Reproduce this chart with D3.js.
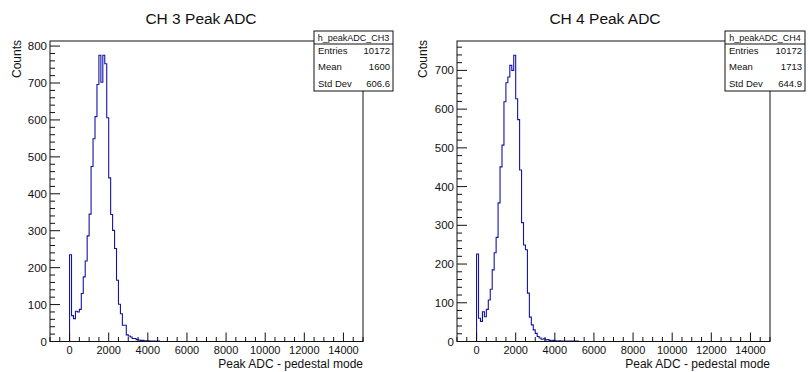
<!DOCTYPE html>
<html>
<head>
<meta charset="utf-8">
<script src="https://cdn.jsdelivr.net/npm/d3@7"></script>
<style>
  html, body { margin: 0; padding: 0; background: #fff; }
  svg { display: block; font-family: "Liberation Sans", Arial, Helvetica, sans-serif; }
</style>
</head>
<body>
<svg id="chart" width="808" height="372"></svg>
<script>
// ---------------- data ----------------
const binWidth = 100;            // ADC units per bin, first bin starts at 0
const xDomain = [-1000, 15000];
const xTickValues = [0, 2000, 4000, 6000, 8000, 10000, 12000, 14000];

const ch3Counts = [235, 70, 62, 82, 80, 87, 130, 175, 218, 286,
                   345, 474, 549, 609, 696, 775, 702, 775, 752, 606,
                   443, 344, 301, 252, 166, 101, 75, 44, 44, 18,
                   15, 12, 8, 8, 5, 4, 3, 3, 2, 2,
                   2, 1, 1, 1, 1, 1, 0];
const ch4Counts = [226, 60, 52, 77, 64, 83, 107, 135, 185, 229,
                   269, 358, 451, 507, 619, 668, 683, 713, 700, 739,
                   627, 573, 443, 307, 249, 237, 125, 63, 43, 30,
                   21, 13, 9, 6, 7, 4, 5, 3, 2, 3,
                   2, 1, 2, 1, 1, 1, 1, 1, 1, 1, 1, 1, 0];

const titles = ["CH 3 Peak ADC", "CH 4 Peak ADC"];
const histNames = ["h_peakADC_CH3", "h_peakADC_CH4"];
const statLabels = ["Entries", "Mean", "Std Dev"];
const ch3Stats = ["10172", "1600", "606.6"];
const ch4Stats = ["10172", "1713", "644.9"];
const xTitle = "Peak ADC - pedestal mode";
const yTitle = "Counts";

// ---------------- layout ----------------
const panels = [
  { counts: ch3Counts, stats: ch3Stats, title: titles[0], name: histNames[0],
    fx0: 50, fx1: 363, fy0: 41, fy1: 341.5, titleX: 201, box: {x: 314, y: 31, w: 79, h: 60}, yTitleX: 21 },
  { counts: ch4Counts, stats: ch4Stats, title: titles[1], name: histNames[1],
    fx0: 457, fx1: 770, fy0: 41, fy1: 341.5, titleX: 605, box: {x: 725, y: 31, w: 80, h: 60}, yTitleX: 427 }
];

const svg = d3.select("#chart");
const ink = "#111";
const lineColor = "#1414a8";

panels.forEach(p => {
  const g = svg.append("g");
  const ymax = 1.05 * d3.max(p.counts);
  const x = d3.scaleLinear().domain(xDomain).range([p.fx0, p.fx1]);
  const y = d3.scaleLinear().domain([0, ymax]).range([p.fy1, p.fy0]);

  // histogram outline
  let last = p.counts.length - 1;
  while (last > 0 && p.counts[last] === 0) last--;
  const pts = [[0, 0]];
  for (let i = 0; i <= last; i++) {
    pts.push([i * binWidth, p.counts[i]]);
    pts.push([(i + 1) * binWidth, p.counts[i]]);
  }
  pts.push([(last + 1) * binWidth, 0]);
  const line = d3.line().x(d => x(d[0])).y(d => y(d[1]));
  g.append("path").attr("d", line(pts))
    .attr("fill", "none").attr("stroke", lineColor).attr("stroke-width", 1.1);

  // frame
  g.append("rect").attr("x", p.fx0).attr("y", p.fy0)
    .attr("width", p.fx1 - p.fx0).attr("height", p.fy1 - p.fy0)
    .attr("fill", "none").attr("stroke", ink).attr("stroke-width", 1);

  // x axis ticks (inside, upward)
  const xMinor = d3.range(xDomain[0], xDomain[1] + 1, 500).filter(v => v % 2000 !== 0);
  g.selectAll(null).data(xMinor).enter().append("line")
    .attr("x1", d => x(d)).attr("x2", d => x(d))
    .attr("y1", p.fy1).attr("y2", p.fy1 - 4.5)
    .attr("stroke", ink).attr("stroke-width", 1);
  g.selectAll(null).data(xTickValues).enter().append("line")
    .attr("x1", d => x(d)).attr("x2", d => x(d))
    .attr("y1", p.fy1).attr("y2", p.fy1 - 9)
    .attr("stroke", ink).attr("stroke-width", 1);
  g.selectAll(null).data(xTickValues).enter().append("text")
    .attr("x", d => x(d)).attr("y", p.fy1 + 12)
    .attr("text-anchor", "middle").attr("font-size", 11).attr("fill", ink)
    .text(d => d);

  // y axis ticks (inside, rightward)
  const yMajor = d3.range(0, ymax + 0.001, 100);
  const yMinor = d3.range(0, ymax, 20).filter(v => v % 100 !== 0);
  g.selectAll(null).data(yMinor).enter().append("line")
    .attr("x1", p.fx0).attr("x2", p.fx0 + 5)
    .attr("y1", d => y(d)).attr("y2", d => y(d))
    .attr("stroke", ink).attr("stroke-width", 1);
  g.selectAll(null).data(yMajor).enter().append("line")
    .attr("x1", p.fx0).attr("x2", p.fx0 + 10)
    .attr("y1", d => y(d)).attr("y2", d => y(d))
    .attr("stroke", ink).attr("stroke-width", 1);
  g.selectAll(null).data(yMajor).enter().append("text")
    .attr("x", p.fx0 - 3).attr("y", d => y(d) + 4)
    .attr("text-anchor", "end").attr("font-size", 11.5).attr("fill", ink)
    .text(d => d);

  // axis titles
  g.append("text").attr("x", p.fx1).attr("y", 368)
    .attr("text-anchor", "end").attr("font-size", 12).attr("fill", ink)
    .text(xTitle);
  g.append("text")
    .attr("transform", `translate(${p.yTitleX},${p.fy0 - 1}) rotate(-90)`)
    .attr("text-anchor", "end").attr("font-size", 12).attr("fill", ink)
    .text(yTitle);

  // title
  g.append("text").attr("x", p.titleX).attr("y", 24)
    .attr("text-anchor", "middle").attr("font-size", 15.5).attr("fill", ink)
    .text(p.title);

  // stat box
  const b = p.box;
  g.append("rect").attr("x", b.x).attr("y", b.y).attr("width", b.w).attr("height", b.h)
    .attr("fill", "#fff").attr("stroke", ink).attr("stroke-width", 1);
  g.append("line").attr("x1", b.x).attr("x2", b.x + b.w)
    .attr("y1", b.y + 13).attr("y2", b.y + 13)
    .attr("stroke", ink).attr("stroke-width", 1);
  g.append("text").attr("x", b.x + b.w / 2).attr("y", b.y + 9.5)
    .attr("text-anchor", "middle").attr("font-size", 9).attr("fill", ink)
    .text(p.name);
  statLabels.forEach((lab, i) => {
    const by = b.y + 22.5 + i * 16.5;
    g.append("text").attr("x", b.x + 4).attr("y", by)
      .attr("font-size", 9.5).attr("fill", ink).text(lab);
    g.append("text").attr("x", b.x + b.w - 3).attr("y", by)
      .attr("text-anchor", "end").attr("font-size", 9.5).attr("fill", ink).text(p.stats[i]);
  });
});
</script>
</body>
</html>
